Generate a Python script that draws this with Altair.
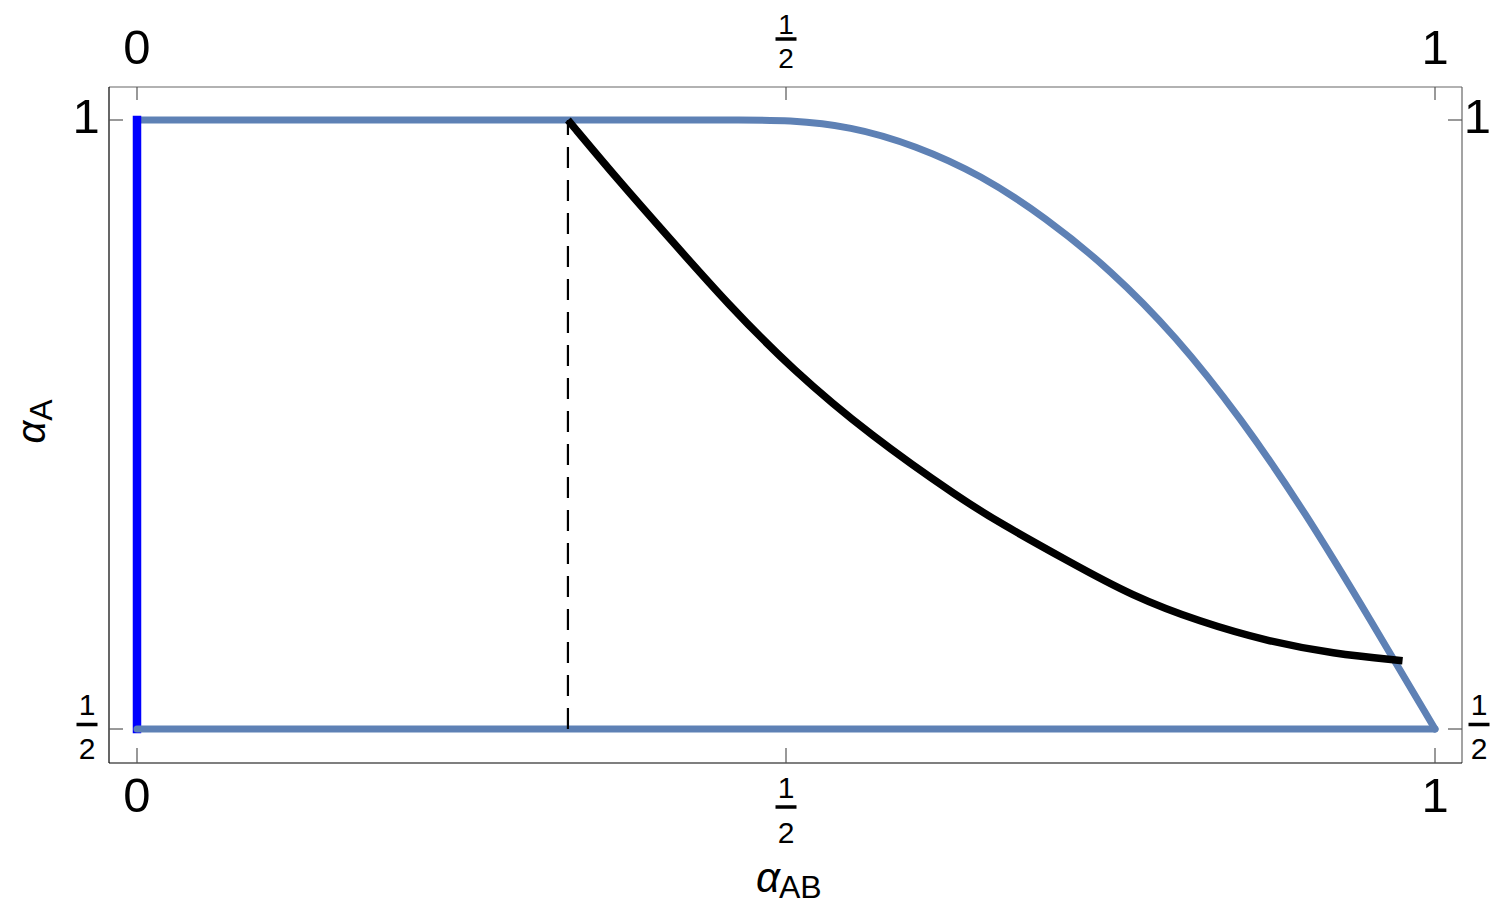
import altair as alt
import pandas as pd

# ---------------- data ----------------
# upper / right boundary of the region (steel blue)
upper_x = [0.0, 0.15, 0.30, 0.40, 0.47, 0.50, 0.55, 0.60, 0.65, 0.70, 0.75, 0.80, 0.85, 0.90, 0.95, 1.00]
upper_y = [1.0, 1.0, 1.0, 1.0, 1.0, 1.000, 0.995, 0.979, 0.955, 0.920, 0.877, 0.823, 0.756, 0.678, 0.590, 0.500]
# lower boundary (steel blue)
lower_x = [0.0, 1.0]
lower_y = [0.5, 0.5]
# vertical blue segment at alpha_AB = 0
wall_x = [0.0]
wall_y0 = [0.5]
wall_y1 = [1.0]
# dashed vertical marker
dash_x = [0.332]
dash_y0 = [0.5]
dash_y1 = [1.0]
# black curve
black_x = [0.332, 0.372, 0.411, 0.455, 0.505, 0.565, 0.636, 0.665, 0.717, 0.767, 0.819, 0.871, 0.921, 0.975]
black_y = [1.000, 0.949, 0.902, 0.849, 0.795, 0.741, 0.688, 0.669, 0.638, 0.609, 0.588, 0.572, 0.562, 0.556]

# tick values / labels
x_whole_ticks = [0.0, 1.0]
x_whole_labels = ["0", "1"]
x_frac_ticks = [0.5]
y_whole_ticks = [1.0]
y_whole_labels = ["1"]
y_frac_ticks = [0.5]
x_all_ticks = [0.0, 0.5, 1.0]
y_all_ticks = [0.5, 1.0]

# ---------------- layout ----------------
W, H = 1353, 676
XDOM = [-0.02157, 1.0208]
YDOM = [0.47209, 1.02709]
STEEL = "#5E81B5"
FONT = "Liberation Sans"
TICKC = "#555555"

xs = alt.Scale(domain=XDOM, nice=False, zero=False)
ys = alt.Scale(domain=YDOM, nice=False, zero=False)


def ex(f="x"):
    return alt.X(f"{f}:Q", scale=xs, axis=None)


def ey(f="y"):
    return alt.Y(f"{f}:Q", scale=ys, axis=None)


ONE = pd.DataFrame({"k": [0]})
layers = []

# frame
layers.append(alt.Chart(ONE).mark_rule(color="#666666", strokeWidth=1.2).encode(
    x=alt.value(0), x2=alt.value(W), y=alt.value(0)))
layers.append(alt.Chart(ONE).mark_rule(color="#666666", strokeWidth=1.2).encode(
    x=alt.value(W), y=alt.value(0), y2=alt.value(H)))
layers.append(alt.Chart(ONE).mark_rule(color="black", strokeWidth=1.2).encode(
    x=alt.value(0), y=alt.value(0), y2=alt.value(H)))
layers.append(alt.Chart(ONE).mark_rule(color="black", strokeWidth=1.2).encode(
    x=alt.value(0), x2=alt.value(W), y=alt.value(H)))

# inward ticks
xt = pd.DataFrame({"x": x_all_ticks})
yt = pd.DataFrame({"y": y_all_ticks})
layers.append(alt.Chart(xt).mark_rule(color=TICKC, strokeWidth=1.2).encode(
    x=ex(), y=alt.value(0), y2=alt.value(13)))
layers.append(alt.Chart(xt).mark_rule(color=TICKC, strokeWidth=1.2).encode(
    x=ex(), y=alt.value(H - 15), y2=alt.value(H)))
layers.append(alt.Chart(yt).mark_rule(color=TICKC, strokeWidth=1.2).encode(
    y=ey(), x=alt.value(0), x2=alt.value(14)))
layers.append(alt.Chart(yt).mark_rule(color=TICKC, strokeWidth=1.2).encode(
    y=ey(), x=alt.value(W - 14), x2=alt.value(W)))

# curves
up = pd.DataFrame({"x": upper_x, "y": upper_y, "i": list(range(len(upper_x)))})
layers.append(alt.Chart(up).mark_line(color=STEEL, strokeWidth=7, interpolate="basis",
                                      strokeCap="round", strokeJoin="round").encode(
    x=ex(), y=ey(), order="i:Q"))
wall = pd.DataFrame({"x": wall_x, "y": wall_y0, "y2": wall_y1})
layers.append(alt.Chart(wall).mark_rule(color="#0000FF", strokeWidth=8.5, strokeCap="square").encode(
    x=ex(), y=ey(), y2="y2:Q"))
lo = pd.DataFrame({"x": lower_x, "y": lower_y})
layers.append(alt.Chart(lo).mark_line(color=STEEL, strokeWidth=7, strokeCap="round").encode(
    x=ex(), y=ey()))
dd = pd.DataFrame({"x": dash_x, "y": dash_y0, "y2": dash_y1})
layers.append(alt.Chart(dd).mark_rule(color="black", strokeWidth=2.2, strokeDash=[21, 12]).encode(
    x=ex(), y=ey(), y2="y2:Q"))
bk = pd.DataFrame({"x": black_x, "y": black_y, "i": list(range(len(black_x)))})
layers.append(alt.Chart(bk).mark_line(color="black", strokeWidth=7.5, interpolate="basis",
                                      strokeCap="butt").encode(
    x=ex(), y=ey(), order="i:Q"))

# ---------------- tick labels ----------------
BIG = 49
SMALL = 30
xw = pd.DataFrame({"x": x_whole_ticks, "t": x_whole_labels})
for py in (-23, 725):
    layers.append(alt.Chart(xw).mark_text(font=FONT, fontSize=BIG, baseline="alphabetic",
                                          align="center", color="black").encode(
        x=ex(), y=alt.value(py), text="t:N"))

xf = pd.DataFrame({"x": x_frac_ticks})
for py1, pbar, py2, fs in ((-53, -48, -19, 28), (711, 720, 756, SMALL)):
    layers.append(alt.Chart(xf).mark_text(font=FONT, fontSize=fs, baseline="alphabetic",
                                          align="center", color="black", text="1").encode(
        x=ex(), y=alt.value(py1)))
    layers.append(alt.Chart(xf).mark_rule(strokeWidth=3.5, color="black",
                                          xOffset=-10.5, x2Offset=10.5).encode(
        x=ex(), x2="x:Q", y=alt.value(pbar)))
    layers.append(alt.Chart(xf).mark_text(font=FONT, fontSize=fs, baseline="alphabetic",
                                          align="center", color="black", text="2").encode(
        x=ex(), y=alt.value(py2)))

yw = pd.DataFrame({"y": y_whole_ticks, "t": y_whole_labels})
for px, al in ((-23, "center"), (1382, "right")):
    layers.append(alt.Chart(yw).mark_text(font=FONT, fontSize=BIG, baseline="alphabetic",
                                          align=al, color="black", dy=13).encode(
        y=ey(), x=alt.value(px), text="t:N"))

yf = pd.DataFrame({"y": y_frac_ticks})
for px in (-22, 1370):
    layers.append(alt.Chart(yf).mark_text(font=FONT, fontSize=SMALL, baseline="alphabetic",
                                          align="center", color="black", text="1", dy=-14).encode(
        y=ey(), x=alt.value(px)))
    layers.append(alt.Chart(yf).mark_rule(strokeWidth=3.5, color="black", yOffset=-4.5).encode(
        y=ey(), x=alt.value(px - 10.5), x2=alt.value(px + 10.5)))
    layers.append(alt.Chart(yf).mark_text(font=FONT, fontSize=SMALL, baseline="alphabetic",
                                          align="center", color="black", text="2", dy=30).encode(
        y=ey(), x=alt.value(px)))

# ---------------- axis titles ----------------
layers.append(alt.Chart(ONE).mark_text(font=FONT, fontSize=42, fontStyle="italic", align="right",
                                       baseline="alphabetic", color="black", text="α").encode(
    x=alt.value(671), y=alt.value(805)))
layers.append(alt.Chart(ONE).mark_text(font=FONT, fontSize=32, align="left",
                                       baseline="alphabetic", color="black", text="AB").encode(
    x=alt.value(670), y=alt.value(811)))
layers.append(alt.Chart(ONE).mark_text(font=FONT, fontSize=40, fontStyle="italic", align="center",
                                       baseline="alphabetic", color="black", text="α", angle=270).encode(
    x=alt.value(-64), y=alt.value(345)))
layers.append(alt.Chart(ONE).mark_text(font=FONT, fontSize=32, align="center",
                                       baseline="alphabetic", color="black", text="A", angle=270).encode(
    x=alt.value(-57), y=alt.value(323)))

chart = alt.layer(*layers).properties(
    width=W, height=H,
    padding={"left": 101, "top": 79, "right": 30, "bottom": 145},
    autosize=alt.AutoSizeParams(type="none"),
).configure_view(stroke=None)

chart.save("out.html", embed_options={"renderer": "svg", "actions": False})
